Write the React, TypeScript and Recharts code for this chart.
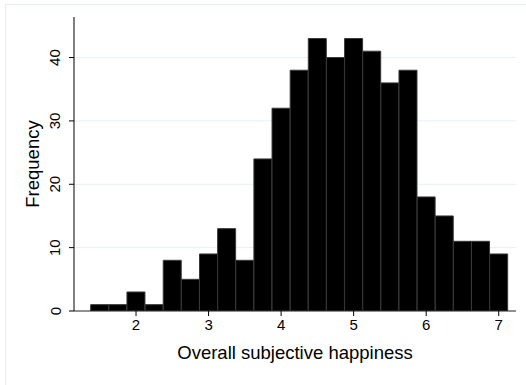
import React from 'react';
import { BarChart, Bar, XAxis, YAxis, CartesianGrid } from 'recharts';

const binCenters = [1.5, 1.75, 2, 2.25, 2.5, 2.75, 3, 3.25, 3.5, 3.75, 4, 4.25, 4.5, 4.75, 5, 5.25, 5.5, 5.75, 6, 6.25, 6.5, 6.75, 7];
const frequencies = [1, 1, 3, 1, 8, 5, 9, 13, 8, 24, 32, 38, 43, 40, 43, 41, 36, 38, 18, 15, 11, 11, 9];
const xTicks = [2, 3, 4, 5, 6, 7];
const yTicks = [0, 10, 20, 30, 40];

const data = binCenters.map((x, i) => ({ x, freq: frequencies[i] }));

const FONT = '"Liberation Sans", Arial, sans-serif';

const YTick = (props: any) => {
  const { x, y, payload } = props;
  const cx = x - 12;
  return (
    <text
      x={cx}
      y={y}
      transform={`rotate(-90, ${cx}, ${y})`}
      textAnchor="middle"
      dominantBaseline="central"
      fontSize={15}
      fill="#000"
      fontFamily={FONT}
    >
      {payload.value}
    </text>
  );
};

const XTick = (props: any) => {
  const { x, y, payload } = props;
  return (
    <text x={x} y={y + 6} textAnchor="middle" dominantBaseline="central" fontSize={15} fill="#000" fontFamily={FONT}>
      {payload.value}
    </text>
  );
};

export default function App() {
  return (
    <div style={{ position: 'fixed', left: 0, top: 0, width: 526, height: 385, background: '#fff', overflow: 'hidden' }}>
      <div
        style={{
          position: 'absolute',
          left: 5,
          top: 4,
          width: 600,
          height: 500,
          borderTop: '1px solid #e4eef0',
          borderLeft: '1px solid #e4eef0',
        }}
      />
      <div style={{ position: 'absolute', left: 0, top: 0 }}>
        <BarChart
          width={526}
          height={385}
          data={data}
          margin={{ top: 17, right: 10, left: 0, bottom: 0 }}
          barCategoryGap={0}
          barGap={0}
        >
          <CartesianGrid horizontal vertical={false} stroke="#e6f0f2" horizontalValues={[10, 20, 30, 40]} />
          <XAxis
            dataKey="x"
            type="number"
            domain={[1.145, 7.238]}
            ticks={xTicks}
            height={74}
            tick={<XTick />}
            tickSize={5}
            stroke="#000"
            axisLine={{ stroke: '#222' }}
            tickLine={{ stroke: '#000' }}
            allowDataOverflow
            label={{
              value: 'Overall subjective happiness',
              position: 'insideBottom',
              offset: 26,
              fontSize: 18.5,
              fill: '#000',
              fontFamily: FONT,
            }}
          />
          <YAxis
            type="number"
            domain={[0, 46.4]}
            ticks={yTicks}
            width={74}
            tick={<YTick />}
            tickSize={5}
            stroke="#000"
            allowDataOverflow
            label={{
              value: 'Frequency',
              angle: -90,
              position: 'insideLeft',
              offset: 32,
              fontSize: 18.5,
              fill: '#000',
              fontFamily: FONT,
              style: { textAnchor: 'middle' },
            }}
          />
          <Bar dataKey="freq" fill="#000" stroke="#383838" strokeWidth={1} isAnimationActive={false} />
        </BarChart>
      </div>
    </div>
  );
}
